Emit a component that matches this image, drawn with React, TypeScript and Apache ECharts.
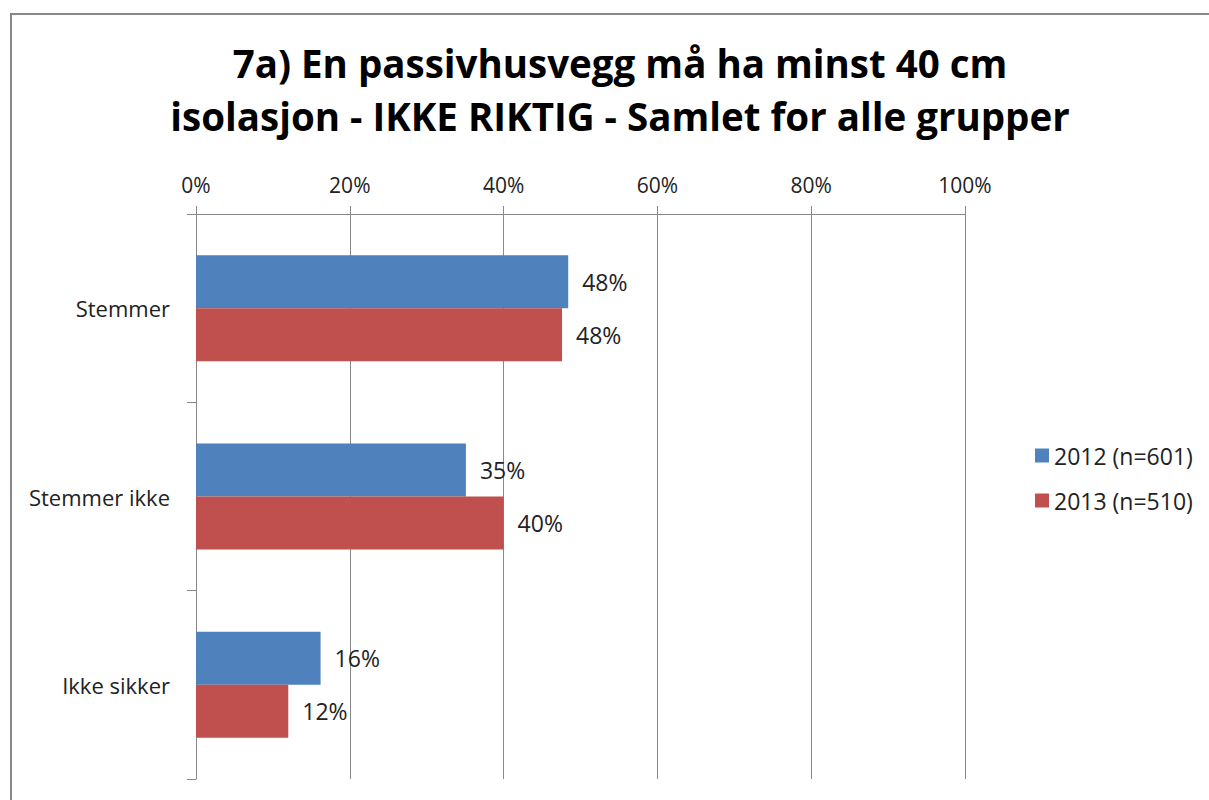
import React, { useEffect, useRef } from "react";
import * as echarts from "echarts";

const titleLines = [
  "7a) En passivhusvegg må ha minst 40 cm",
  "isolasjon - IKKE RIKTIG - Samlet for alle grupper",
];
const categories = ["Stemmer", "Stemmer ikke", "Ikke sikker"];
const series2012 = [48.4, 35.1, 16.2];
const series2013 = [47.6, 40.0, 12.0];
const seriesNames = ["2012 (n=601)", "2013 (n=510)"];
const colors = ["#4F81BD", "#C0504D"];

const FONT = "'Open Sans', Lato, sans-serif";

export default function App() {
  const ref = useRef<HTMLDivElement>(null);
  useEffect(() => {
    if (!ref.current) return;
    const chart = echarts.init(ref.current, null, { renderer: "svg" });
    const labelCfg = {
      show: true,
      position: "right",
      distance: 14,
      color: "#222",
      fontSize: 23,
      fontFamily: FONT,
      formatter: (p: any) => Math.round(p.value) + "%",
    };
    chart.setOption({
      animation: false,
      backgroundColor: "#fff",
      textStyle: { fontFamily: FONT },
      title: {
        text: titleLines.join("\n"),
        left: 615,
        textAlign: "center",
        top: 31,
        textStyle: {
          fontSize: 38.5,
          fontWeight: "bold",
          color: "#000",
          fontFamily: FONT,
          lineHeight: 53,
        },
      },
      graphic: [
        {
          type: "line",
          shape: { x1: 11, y1: 14, x2: 1209, y2: 14 },
          style: { stroke: "#878787", lineWidth: 2 },
          silent: true,
        },
        {
          type: "line",
          shape: { x1: 11, y1: 13, x2: 11, y2: 800 },
          style: { stroke: "#878787", lineWidth: 2 },
          silent: true,
        },
      ],
      legend: {
        orient: "vertical",
        left: 1030,
        top: 439,
        itemWidth: 14,
        itemHeight: 14,
        itemGap: 22,
        icon: "rect",
        textStyle: { fontSize: 23, color: "#222", fontFamily: FONT },
        data: seriesNames,
      },
      grid: { left: 196, right: 244, top: 214, bottom: 21, containLabel: false },
      xAxis: {
        type: "value",
        position: "top",
        min: 0,
        max: 100,
        interval: 20,
        axisLine: { show: true, lineStyle: { color: "#888", width: 1 } },
        axisTick: { show: true, length: 8, lineStyle: { color: "#888" } },
        splitLine: { show: true, lineStyle: { color: "#888", width: 1 } },
        axisLabel: {
          formatter: "{value}%",
          fontSize: 21,
          color: "#222",
          margin: 19,
          fontFamily: FONT,
        },
      },
      yAxis: {
        type: "category",
        inverse: true,
        data: categories,
        axisLine: { show: true, lineStyle: { color: "#888", width: 1 } },
        axisTick: { show: true, length: 9, lineStyle: { color: "#888" } },
        axisLabel: {
          fontSize: 22,
          color: "#222",
          margin: 26,
          fontFamily: FONT,
        },
      },
      series: [
        {
          name: seriesNames[0],
          type: "bar",
          data: series2012,
          barWidth: 53,
          barGap: "0%",
          itemStyle: { color: colors[0] },
          label: labelCfg,
        },
        {
          name: seriesNames[1],
          type: "bar",
          data: series2013,
          barWidth: 53,
          barGap: "0%",
          itemStyle: { color: colors[1] },
          label: labelCfg,
        },
      ],
    });
    return () => chart.dispose();
  }, []);
  return (
    <div
      ref={ref}
      style={{ width: 1209, height: 800, position: "absolute", left: 0, top: 0 }}
    />
  );
}
